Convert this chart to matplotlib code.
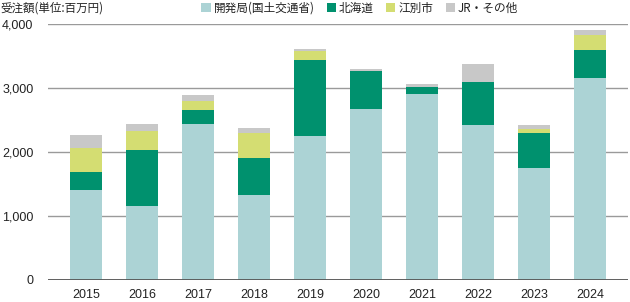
import matplotlib
matplotlib.use("Agg")
import matplotlib.pyplot as plt
import numpy as np

# 受注額 (単位: 百万円)
years = ["2015", "2016", "2017", "2018", "2019", "2020", "2021", "2022", "2023", "2024"]
kaihatsu = [1400, 1150, 2430, 1320, 2250, 2670, 2900, 2420, 1750, 3150]
hokkaido = [280, 880, 230, 580, 1190, 590, 110, 670, 545, 450]
ebetsu = [380, 300, 130, 390, 130, 0, 0, 0, 60, 220]
jr_other = [200, 110, 95, 80, 40, 30, 50, 290, 60, 80]
series_names = ["開発局(国土交通省)", "北海道", "江別市", "JR・その他"]
colors = ["#acd3d5", "#00916e", "#d4dd72", "#c8c8c8"]
yticks = [0, 1000, 2000, 3000, 4000]

jp = ["Noto Sans CJK JP", "DejaVu Sans"]
num = ["Liberation Sans", "DejaVu Sans"]

fig = plt.figure(figsize=(6.3, 3.02), dpi=100)
ax = fig.add_axes([48 / 630, 22.5 / 302, 580 / 630, 255.5 / 302])

x = np.arange(len(years))
bottom = np.zeros(len(years))
handles = []
for vals, name, c in zip([kaihatsu, hokkaido, ebetsu, jr_other], series_names, colors):
    b = ax.bar(x, vals, width=0.57, bottom=bottom, color=c, label=name, zorder=3)
    handles.append(b)
    bottom += np.array(vals)

ax.set_xlim(-0.68, len(years) - 0.32)
ax.set_ylim(0, 4000)
ax.set_yticks(yticks)
ax.set_yticklabels([f"{v:,}" for v in yticks], family=num, fontsize=9, color="#222222")
ax.set_xticks(x)
ax.set_xticklabels(years, family=num, fontsize=9, color="#222222")
ax.tick_params(axis="both", length=0)
ax.tick_params(axis="y", pad=10.5)
ax.tick_params(axis="x", pad=7)
ax.yaxis.grid(True, color="#9a9a9a", linewidth=1.0, zorder=0)
ax.axhline(0, color="#555555", linewidth=1.3, zorder=4)
for s in ax.spines.values():
    s.set_visible(False)

fig.text(0.0, 1 - 8 / 302, "受注額(単位:百万円)", family=jp, fontsize=8.3,
         color="#222222", ha="left", va="center")

fig.legend(handles=handles, labels=series_names, loc="center right",
           bbox_to_anchor=(518 / 630, 1 - 8.5 / 302), ncol=4, frameon=False,
           prop={"family": jp, "size": 8.4}, handlelength=0.8, handleheight=0.8,
           handletextpad=0.25, columnspacing=1.05, borderpad=0, borderaxespad=0,
           labelcolor="#222222")

fig.savefig("out.png", dpi=100)
